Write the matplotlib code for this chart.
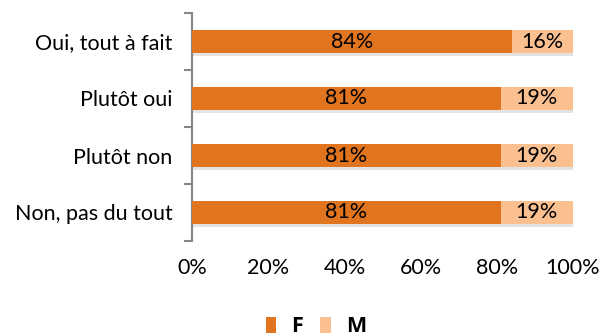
import matplotlib.pyplot as plt
import numpy as np

categories = ["Oui, tout à fait", "Plutôt oui", "Plutôt non", "Non, pas du tout"]
f_values = [84, 81, 81, 81]
m_values = [16, 19, 19, 19]
f_color = "#E0741F"
m_color = "#FAC090"

plt.rcParams["font.family"] = ["Lato", "DejaVu Sans"]
fs = 15.5

fig = plt.figure(figsize=(6.03, 3.36), dpi=100)
ax = fig.add_axes([192 / 603, 1 - 241 / 336, (573 - 192) / 603, (241 - 13) / 336])

y = np.arange(len(categories))
h = 0.42
bars_f = ax.barh(y, f_values, height=h, color=f_color, label="F", zorder=3)
bars_m = ax.barh(y, m_values, left=f_values, height=h, color=m_color, label="M", zorder=3)
# light shadow under the bars
ax.barh(y + 0.05, [a + b for a, b in zip(f_values, m_values)], height=h,
        color="#E3E3E3", zorder=2)

for bar, v in zip(bars_f, f_values):
    ax.text(bar.get_x() + bar.get_width() / 2, bar.get_y() + bar.get_height() / 2,
            f"{v}%", ha="center", va="center", fontsize=fs, color="black", zorder=4)
for bar, v in zip(bars_m, m_values):
    ax.text(bar.get_x() + bar.get_width() / 2, bar.get_y() + bar.get_height() / 2,
            f"{v}%", ha="center", va="center", fontsize=fs, color="black", zorder=4)

ax.set_xlim(0, 100)
ax.set_ylim(len(categories) - 0.5, -0.5)
ax.set_yticks(y)
ax.set_yticklabels(categories, fontsize=fs)
ax.set_yticks(np.arange(len(categories) + 1) - 0.5, minor=True)
ax.tick_params(axis="y", which="major", length=0, pad=14)
ax.tick_params(axis="y", which="minor", length=6, color="#868686", width=1.5)
ax.set_xticks(range(0, 101, 20))
ax.set_xticklabels([f"{t}%" for t in range(0, 101, 20)], fontsize=fs)
ax.tick_params(axis="x", length=0, pad=12)

for s in ["top", "right", "bottom"]:
    ax.spines[s].set_visible(False)
ax.spines["left"].set_color("#868686")
ax.spines["left"].set_linewidth(1.5)

leg = fig.legend(handles=[bars_f, bars_m], labels=["F", "M"], loc="center",
                 bbox_to_anchor=(316 / 603, 1 - 327 / 336), ncol=2, frameon=False,
                 handlelength=0.5, handleheight=0.75, handletextpad=0.7,
                 columnspacing=0.8,
                 prop={"family": "Open Sans", "weight": "bold", "size": 15.5})

fig.savefig("out.png", dpi=100)
